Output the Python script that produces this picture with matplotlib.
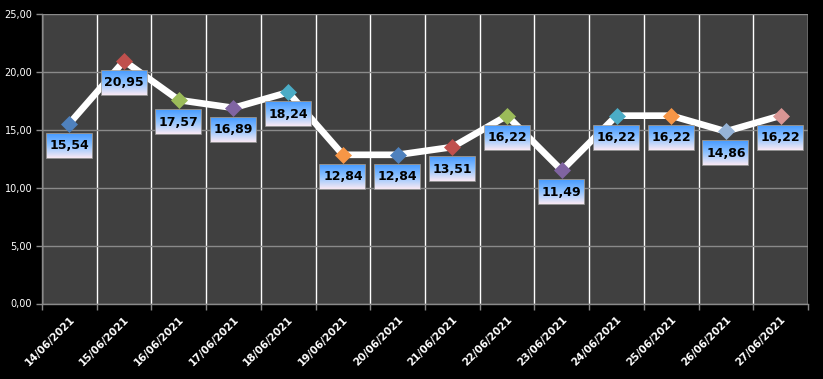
import numpy as np
import matplotlib
matplotlib.use("Agg")
import matplotlib.pyplot as plt
from matplotlib.offsetbox import OffsetImage, AnnotationBbox
from matplotlib.colors import to_rgb

dates = ["14/06/2021", "15/06/2021", "16/06/2021", "17/06/2021", "18/06/2021",
         "19/06/2021", "20/06/2021", "21/06/2021", "22/06/2021", "23/06/2021",
         "24/06/2021", "25/06/2021", "26/06/2021", "27/06/2021"]
values = [15.54, 20.95, 17.57, 16.89, 18.24, 12.84, 12.84, 13.51, 16.22, 11.49,
          16.22, 16.22, 14.86, 16.22]
marker_colors = ["#4F81BD", "#C0504D", "#9BBB59", "#8064A2", "#4BACC6", "#F79646",
                 "#4F81BD", "#C0504D", "#9BBB59", "#8064A2", "#4BACC6", "#F79646",
                 "#95B3D7", "#D99694"]
yticks = [0, 5, 10, 15, 20, 25]

W, H = 823, 379
fig = plt.figure(figsize=(W / 100, H / 100), dpi=100, facecolor="black")
ax = fig.add_axes([42 / W, 1 - 303.5 / H, (808 - 42) / W, (303.5 - 14) / H])
ax.set_facecolor("#404040")

n = len(values)
x = np.arange(n)
ax.set_xlim(-0.5, n - 0.5)
ax.set_ylim(0, 25)

# grid
ax.set_yticks(yticks)
ax.set_yticklabels([f"{v:.2f}".replace(".", ",") for v in yticks])
ax.yaxis.grid(True, color="#8a8a8a", linewidth=1.0)
ax.set_xticks(x)
ax.set_xticklabels(dates, rotation=45, ha="right", rotation_mode="anchor",
                   fontsize=7.5, fontweight="bold", color="white")
ax.set_xticks(np.arange(n + 1) - 0.5, minor=True)
ax.xaxis.grid(True, which="minor", color="white", linewidth=1.0)
ax.tick_params(axis="x", which="major", length=0, pad=8)
ax.tick_params(axis="x", which="minor", length=4, color="#8a8a8a", width=1)
ax.tick_params(axis="y", length=4, color="#8a8a8a", width=1, labelsize=7,
               labelcolor="white", pad=3)
ax.set_axisbelow(True)
for s in ["top", "right"]:
    ax.spines[s].set_visible(False)
for s in ["left", "bottom"]:
    ax.spines[s].set_color("#8a8a8a")
    ax.spines[s].set_linewidth(1)

# line
ax.plot(x, values, color="white", linewidth=4.8, zorder=3, solid_joinstyle="miter")
for xi, v, c in zip(x, values, marker_colors):
    ax.plot(xi, v, marker="D", markersize=8, color=c, markeredgecolor=c,
            markeredgewidth=0.5, zorder=4)

# gradient label boxes
bw, bh = 45, 24
stops = np.array([0.0, 0.5, 1.0])
cols = np.array([to_rgb("#4C9EFF"), to_rgb("#92C4FF"), to_rgb("#F6E8F3")])
t = np.linspace(0, 1, bh)
grad = np.stack([np.interp(t, stops, cols[:, k]) for k in range(3)], axis=-1)
grad = np.repeat(grad[:, None, :], bw, axis=1)

for xi, v in zip(x, values):
    im = OffsetImage(grad, zoom=1, dpi_cor=False)
    ab = AnnotationBbox(im, (xi, v), xybox=(0, -22), xycoords="data",
                        boxcoords="offset pixels", frameon=True, pad=0,
                        bboxprops=dict(edgecolor="#a0a0a0", linewidth=1.2),
                        zorder=5)
    ax.add_artist(ab)
    ax.annotate(f"{v:.2f}".replace(".", ","), (xi, v), xytext=(0, -22),
                textcoords="offset pixels", ha="center", va="center",
                fontsize=9, fontweight="bold", color="black", zorder=6)

fig.savefig("out.png", dpi=100, facecolor="black")
